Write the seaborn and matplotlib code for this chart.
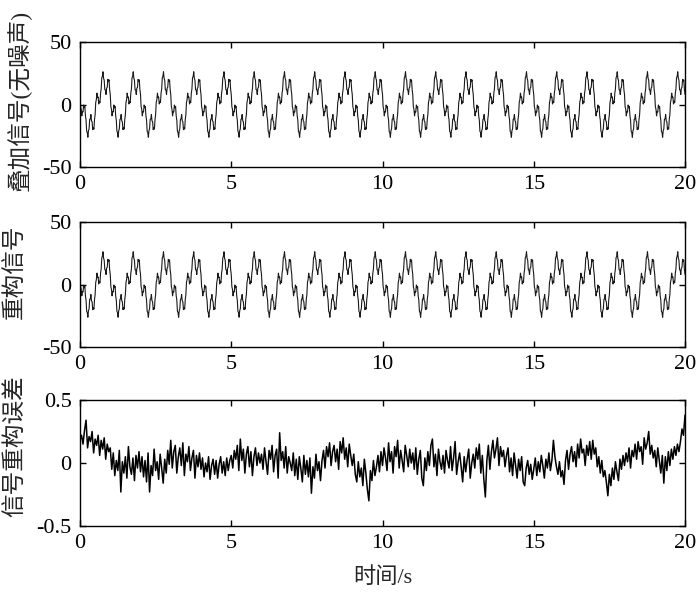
import numpy as np
import pandas as pd
import matplotlib
matplotlib.use("Agg")
import matplotlib.pyplot as plt
import seaborn as sns

# ---------------- data ----------------
# one 1-second cycle of the clean superposed signal, sampled every 0.02 s
signal_cycle = [
    8.1, -1.7, -3.8, -9.1, -5.5, -6.0, -0.4, -2.6, -1.5, -9.1,
    -12.4, -21.4, -22.4, -26.2, -20.9, -19.5, -11.8, -11.6, -8.0, -13.1,
    -13.7, -20.1, -18.4, -19.7, -11.9, -8.1, 1.7, 3.8, 9.1, 5.5,
    6.0, 0.4, 2.6, 1.5, 9.1, 12.4, 21.4, 22.4, 26.2, 20.9,
    19.5, 11.8, 11.6, 8.0, 13.1, 13.7, 20.1, 18.4, 19.7, 11.9,
]
n_cycles = 20
signal_dt = 0.02

# reconstruction error, sampled every 0.05 s (one row per second)
error_values = [
    0.18, 0.22, 0.15, 0.26, 0.34, 0.12, 0.21, 0.17, 0.25, 0.08, 0.19, 0.14, 0.22, 0.06, 0.18, 0.11, 0.20, 0.03, 0.15, 0.09,
    0.12, -0.05, 0.08, -0.10, 0.02, -0.06, 0.10, -0.23, 0.01, -0.08, 0.05, -0.12, 0.13, -0.03, -0.09, 0.04, -0.14, 0.06, -0.04, 0.09,
    -0.07, 0.05, -0.11, 0.02, -0.15, 0.08, -0.23, -0.02, -0.10, 0.11, -0.06, 0.01, -0.13, 0.07, -0.04, -0.16, 0.03, -0.08, 0.10, -0.01,
    0.18, -0.04, 0.09, 0.14, -0.08, 0.05, 0.12, -0.02, 0.16, -0.10, 0.07, 0.01, 0.13, -0.06, 0.04, 0.10, -0.12, 0.06, -0.03, 0.08,
    -0.05, 0.04, -0.11, 0.00, -0.07, 0.05, -0.13, -0.02, 0.03, -0.09, 0.02, -0.12, -0.01, 0.05, -0.08, 0.01, -0.10, 0.04, -0.06, 0.02,
    0.06, -0.04, 0.10, 0.03, 0.14, -0.06, 0.19, 0.02, 0.11, -0.08, 0.07, 0.13, -0.03, 0.09, -0.10, 0.05, 0.12, -0.02, 0.08, 0.00,
    0.07, -0.05, 0.12, 0.01, -0.09, 0.10, 0.03, 0.14, -0.07, 0.06, 0.11, -0.12, 0.24, 0.02, 0.09, -0.04, 0.13, -0.08, 0.05, 0.00,
    -0.06, 0.08, -0.10, 0.03, -0.13, 0.05, -0.04, -0.15, 0.06, -0.09, 0.02, -0.11, 0.04, -0.24, -0.03, -0.12, 0.07, -0.06, 0.01, -0.14,
    0.02, 0.10, -0.04, 0.13, 0.05, 0.16, -0.02, 0.09, 0.14, 0.01, 0.11, -0.05, 0.17, 0.08, 0.20, 0.03, 0.12, -0.03, 0.15, 0.06,
    -0.02, 0.07, -0.09, -0.15, 0.01, -0.11, -0.04, -0.18, 0.03, -0.08, -0.21, -0.30, -0.06, -0.14, 0.02, -0.10, -0.03, 0.06, -0.07, 0.09,
    -0.02, 0.12, 0.04, -0.06, 0.16, 0.01, 0.09, -0.08, 0.13, 0.05, 0.18, -0.04, 0.10, 0.02, -0.07, 0.14, 0.06, -0.03, 0.11, 0.00,
    0.08, -0.05, 0.12, -0.09, 0.03, 0.10, -0.12, -0.18, 0.04, -0.06, 0.09, -0.02, 0.14, 0.19, -0.03, 0.07, -0.10, 0.11, 0.01, -0.05,
    0.06, -0.08, 0.10, 0.02, -0.04, 0.13, -0.06, 0.04, 0.17, -0.09, 0.01, 0.08, -0.03, -0.15, 0.05, -0.07, 0.03, 0.11, -0.12, 0.00,
    0.07, -0.04, 0.12, 0.03, 0.15, -0.08, 0.06, -0.13, -0.27, 0.02, 0.14, -0.05, 0.09, 0.18, 0.04, 0.11, 0.20, -0.02, 0.13, 0.05,
    0.10, -0.03, 0.06, 0.12, -0.07, 0.04, -0.10, 0.08, -0.02, -0.12, 0.03, -0.06, 0.05, -0.15, -0.18, -0.04, 0.02, -0.09, -0.01, -0.13,
    -0.05, 0.04, -0.10, 0.01, -0.07, 0.06, -0.02, -0.12, 0.03, -0.04, 0.08, -0.06, 0.02, 0.18, 0.05, -0.03, -0.09, 0.01, -0.11, -0.06,
    -0.17, 0.02, 0.10, -0.05, 0.07, 0.13, 0.01, 0.09, -0.03, 0.15, 0.04, 0.19, 0.08, 0.11, -0.02, 0.14, 0.06, 0.17, 0.03, 0.18,
    0.07, 0.12, -0.03, 0.05, -0.08, 0.02, -0.11, -0.06, -0.15, -0.26, -0.09, -0.18, -0.04, -0.13, 0.01, -0.07, -0.14, 0.03, -0.05, 0.06,
    -0.02, 0.08, 0.01, 0.12, -0.04, 0.10, 0.05, 0.15, 0.03, 0.17, 0.09, 0.13, -0.01, 0.20, 0.11, 0.16, 0.25, 0.07, 0.14, 0.04,
    0.10, -0.03, 0.12, 0.02, -0.08, 0.06, -0.16, 0.05, -0.06, 0.09, -0.02, 0.11, 0.03, 0.13, 0.06, 0.15, 0.09, 0.17, 0.27, 0.22, 0.38,
]

x_ticks = [0, 5, 10, 15, 20]
sig_yticks = [-50, 0, 50]
err_yticks = [-0.5, 0, 0.5]
ylabels = ["叠加信号(无噪声)", "重构信号", "信号重构误差"]
xlabel = "时间/s"

# ---------------- build frames ----------------
sig_vals = np.append(np.tile(signal_cycle, n_cycles), signal_cycle[0])
sig_t = np.arange(len(sig_vals)) * signal_dt
df_sig = pd.DataFrame({"t": sig_t, "v": sig_vals})
df_rec = pd.DataFrame({"t": sig_t, "v": sig_vals})
err_t = np.linspace(0, 20, len(error_values))
df_err = pd.DataFrame({"t": err_t, "v": error_values})

# ---------------- style ----------------
sns.set_style("ticks")
plt.rcParams["font.family"] = ["Liberation Serif", "Noto Sans CJK SC"]
plt.rcParams["axes.unicode_minus"] = False

W, H = 700, 593
fig = plt.figure(figsize=(W / 100, H / 100), dpi=100)

def axes_px(left, top, right, bottom):
    return fig.add_axes([left / W, 1 - bottom / H, (right - left) / W, (bottom - top) / H])

ax1 = axes_px(80, 42, 685, 167)
ax2 = axes_px(80, 222, 685, 347)
ax3 = axes_px(80, 400, 685, 526)

specs = [
    (ax1, df_sig, "#1a1a1a", 0.8, (-50, 50), sig_yticks),
    (ax2, df_rec, "#1a1a1a", 0.8, (-50, 50), sig_yticks),
    (ax3, df_err, "black", 1.1, (-0.5, 0.5), err_yticks),
]
for ax, df, col, lw, ylim, yt in specs:
    sns.lineplot(data=df, x="t", y="v", ax=ax, color=col, linewidth=lw, estimator=None)
    ax.set_xlim(0, 20)
    ax.set_ylim(*ylim)
    ax.set_xticks(x_ticks)
    ax.set_yticks(yt)
    ax.set_yticklabels([f"{v:g}" for v in yt])
    ax.set_xlabel("")
    ax.set_ylabel("")
    ax.tick_params(direction="in", top=True, right=True, length=4, width=1,
                   labelsize=16, colors="black")
    ax.tick_params(axis="y", pad=6)
    ax.tick_params(axis="x", pad=6)
    for s in ax.spines.values():
        s.set_visible(True)
        s.set_linewidth(1.0)
        s.set_color("black")

label_pos = [(19, 100), (15, 272), (15, 446)]
for (x, y), txt in zip(label_pos, ylabels):
    fig.text(x / W, 1 - y / H, txt, rotation=90, ha="center", va="center", fontsize=17)

fig.text(383 / W, 1 - 578 / H, xlabel, ha="center", va="center", fontsize=16)

fig.savefig("out.png", dpi=100)
